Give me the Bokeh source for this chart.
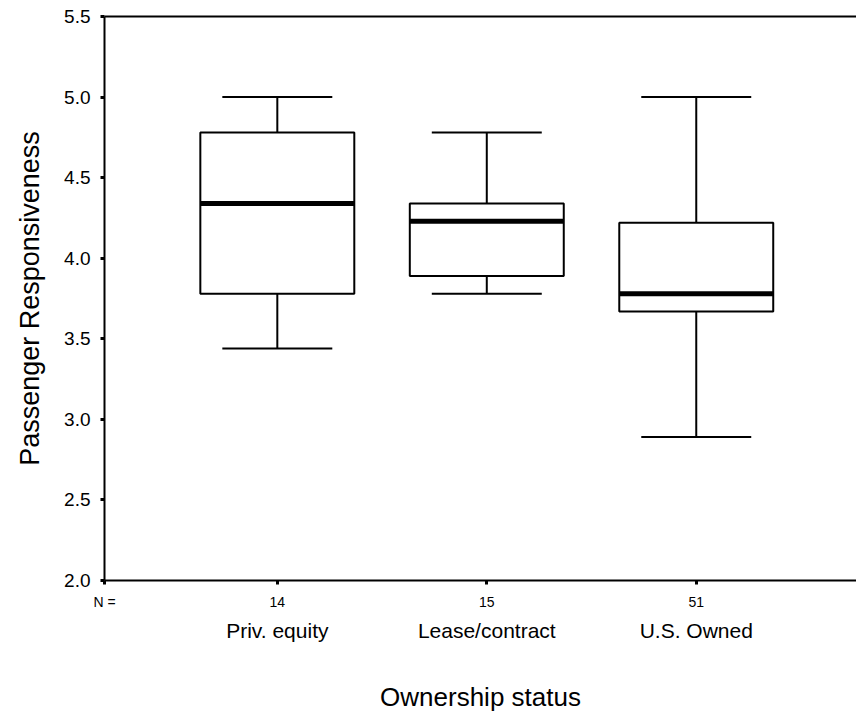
from bokeh.plotting import figure
from bokeh.models import (ColumnDataSource, Range1d, FixedTicker, LinearAxis,
                          NumeralTickFormatter)
from bokeh.embed import file_html
from bokeh.resources import INLINE

# ---- data ----
categories = ["Priv. equity", "Lease/contract", "U.S. Owned"]
n_counts = [14, 15, 51]
lower_whisker = [3.44, 3.78, 2.89]
q1 = [3.78, 3.89, 3.67]
median = [4.34, 4.23, 3.78]
q3 = [4.78, 4.34, 4.22]
upper_whisker = [5.0, 4.78, 5.0]
y_ticks = [2.0, 2.5, 3.0, 3.5, 4.0, 4.5, 5.0, 5.5]

# ---- layout / style ----
FONT = "Liberation Sans"
X_START, X_END = 0.175, 3.765
BOX_W = 0.735
CAP_HALF = 0.2625
xpos = [i + 1 for i in range(len(categories))]

src = ColumnDataSource(dict(
    x=xpos, lo=lower_whisker, q1=q1, med=median, q3=q3, hi=upper_whisker,
    xl=[x - CAP_HALF for x in xpos], xr=[x + CAP_HALF for x in xpos],
    ml=[x - BOX_W / 2 for x in xpos], mr=[x + BOX_W / 2 for x in xpos],
))

p = figure(width=856, height=714, output_backend="svg", toolbar_location=None,
           x_range=Range1d(X_START, X_END), y_range=Range1d(2.0, 5.5),
           min_border_left=104, min_border_top=16, min_border_bottom=134,
           min_border_right=0, x_axis_location=None, y_axis_location=None)
p.outline_line_color = None
p.xgrid.visible = False
p.ygrid.visible = False
p.background_fill_color = "white"
p.border_fill_color = "white"

# whisker stems
p.segment(x0="x", y0="lo", x1="x", y1="q1", source=src, line_color="black", line_width=2)
p.segment(x0="x", y0="q3", x1="x", y1="hi", source=src, line_color="black", line_width=2)
# caps
p.segment(x0="xl", y0="lo", x1="xr", y1="lo", source=src, line_color="black", line_width=2)
p.segment(x0="xl", y0="hi", x1="xr", y1="hi", source=src, line_color="black", line_width=2)
# boxes
p.vbar(x="x", width=BOX_W, bottom="q1", top="q3", source=src,
       fill_color="white", line_color="black", line_width=2)
# medians
p.segment(x0="ml", y0="med", x1="mr", y1="med", source=src, line_color="black", line_width=5)

# y axis
yax = LinearAxis(ticker=FixedTicker(ticks=y_ticks),
                 formatter=NumeralTickFormatter(format="0.0"),
                 axis_label="Passenger Responsiveness")
yax.axis_line_width = 2
yax.major_tick_out = 4
yax.major_tick_in = 0
yax.major_tick_line_width = 3
yax.minor_tick_line_color = None
yax.major_label_standoff = 10
yax.major_label_text_font = FONT
yax.major_label_text_font_size = "19px"
yax.major_label_text_color = "black"
yax.axis_label_text_font = FONT
yax.axis_label_text_font_size = "27px"
yax.axis_label_text_font_style = "normal"
yax.axis_label_text_color = "black"
yax.axis_label_standoff = 16
p.add_layout(yax, "left")

# x axis 1: N counts
n_labels = {X_START: "N ="}
for x, n in zip(xpos, n_counts):
    n_labels[x] = str(n)
xax1 = LinearAxis(ticker=FixedTicker(ticks=[X_START] + xpos))
xax1.major_label_overrides = n_labels
xax1.axis_line_width = 2
xax1.major_tick_out = 4
xax1.major_tick_in = 0
xax1.major_tick_line_width = 3
xax1.minor_tick_line_color = None
xax1.major_label_standoff = 9
xax1.major_label_text_font = FONT
xax1.major_label_text_font_size = "14px"
xax1.major_label_text_color = "black"
p.add_layout(xax1, "below")

# x axis 2: category names + title
xax2 = LinearAxis(ticker=FixedTicker(ticks=xpos),
                  axis_label="Ownership status")
xax2.major_label_overrides = {x: c for x, c in zip(xpos, categories)}
xax2.axis_line_color = None
xax2.major_tick_line_color = None
xax2.minor_tick_line_color = None
xax2.major_tick_out = 0
xax2.major_tick_in = 0
xax2.major_label_standoff = 6
xax2.major_label_text_font = FONT
xax2.major_label_text_font_size = "21px"
xax2.major_label_text_color = "black"
xax2.axis_label_text_font = FONT
xax2.axis_label_text_font_size = "26px"
xax2.axis_label_text_font_style = "normal"
xax2.axis_label_text_color = "black"
xax2.axis_label_standoff = 37
p.add_layout(xax2, "below")

# top border line
top = LinearAxis(ticker=FixedTicker(ticks=[]))
top.axis_line_width = 2
top.major_tick_out = 0
top.major_tick_in = 0
top.minor_tick_line_color = None
top.major_label_text_font_size = "0px"
top.major_label_standoff = 0
p.add_layout(top, "above")

open("out.html", "w").write(file_html(p, INLINE))
